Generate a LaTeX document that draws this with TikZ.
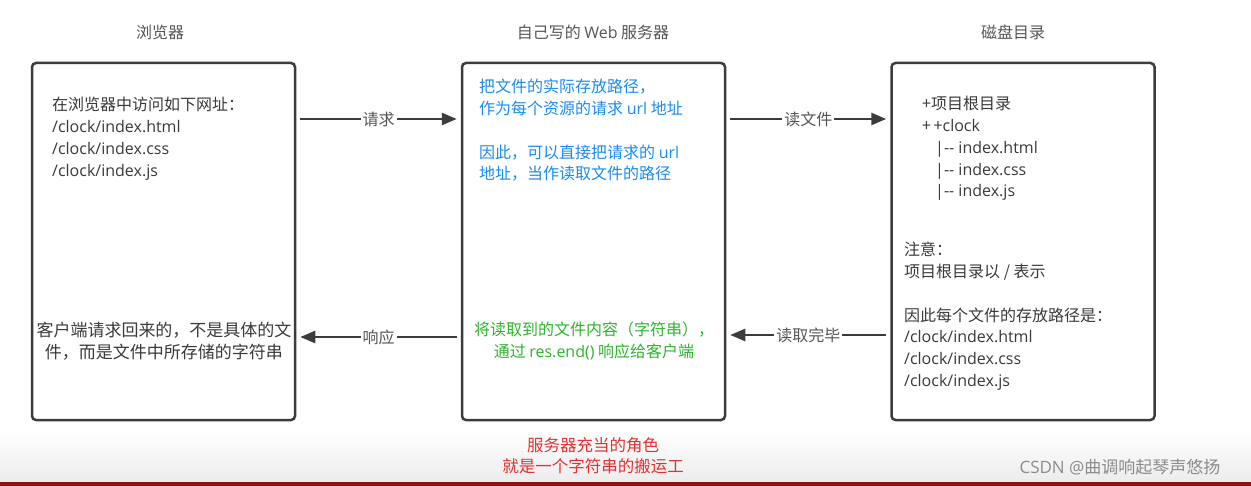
\documentclass[tikz,border=0pt]{standalone}
\usepackage{fontspec}
\setmainfont{Noto Sans CJK SC}
\newfontfamily\latf{Open Sans}
\newcommand{\lt}[1]{{\latf #1}}
\usetikzlibrary{arrows.meta,calc}
\definecolor{boxc}{HTML}{3C3C3C}
\definecolor{txt}{HTML}{3A3A3A}
\definecolor{ttl}{HTML}{555555}
\definecolor{bluet}{HTML}{1A8CF0}
\definecolor{greent}{HTML}{2DB52D}
\definecolor{redt}{HTML}{E53030}
\definecolor{wm}{HTML}{8C8C8C}
\definecolor{stripe}{HTML}{8E1010}
\definecolor{fade}{HTML}{ECECEC}
\begin{document}
\begin{tikzpicture}[x=1pt,y=-1pt,
  box/.style={draw=boxc,line width=2.5pt,rounded corners=4pt,minimum width=263pt,minimum height=357pt,inner sep=0pt},
  body/.style={inner sep=0pt,text=txt,font=\fontsize{16}{21.8}\selectfont},
  title/.style={inner sep=0pt,text=ttl,font=\fontsize{16}{20}\selectfont},
  arr/.style={draw=boxc,line width=2.5pt,-{Triangle[length=15pt,width=12pt]},shorten <=4pt,shorten >=4pt},
  lbl/.style={fill=white,inner sep=2pt,text=ttl,font=\fontsize{16}{20}\selectfont}]
% background
\fill[white] (0,0) rectangle (1251,486);
\shade[top color=white,bottom color=fade] (0,430) rectangle (1251,482);
\fill[stripe] (0,482) rectangle (1251,486);
% titles
\node[title] (t1) at (160,32) {浏览器};
\node[title] (t2) at (593,32) {自己写的 \lt{Web} 服务器};
\node[title] (t3) at (1013,32) {磁盘目录};
% boxes
\node[box] (b1) at (163.5,241.5) {};
\node[box] (b2) at (593.5,241.5) {};
\node[box] (b3) at (1023,241.5) {};
% box 1 texts
\node[body,anchor=north west,align=left] (u1) at (52,97) {在浏览器中访问如下网址：\\\lt{/clock/index.html}\\\lt{/clock/index.css}\\\lt{/clock/index.js}};
\node[body,anchor=north,align=center,font=\fontsize{17}{21.8}\selectfont] (u2) at (164,322) {客户端请求回来的，不是具体的文\\件，而是文件中所存储的字符串};
% box 2 texts
\node[body,text=bluet,anchor=north west,align=left] (s1) at (479,79) {把文件的实际存放路径，\\作为每个资源的请求 \lt{url} 地址\\\mbox{}\\因此，可以直接把请求的 \lt{url}\\地址，当作读取文件的路径};
\node[body,text=greent,anchor=north,align=center] (s2) at (594,322) {将读取到的文件内容（字符串），\\通过 \lt{res.end()} 响应给客户端};
% box 3 texts
\node[body,anchor=north west,align=left] (d1) at (922,96) {+项目根目录\\+\,+\lt{clock}\\\hspace{13pt}\lt{|-{}- index.html}\\\hspace{13pt}\lt{|-{}- index.css}\\\hspace{13pt}\lt{|-{}- index.js}};
\node[body,anchor=north west,align=left] (d2) at (904,242) {注意：\\项目根目录以 / 表示\\\mbox{}\\因此每个文件的存放路径是：\\\lt{/clock/index.html}\\\lt{/clock/index.css}\\\lt{/clock/index.js}};
% connectors
\draw[arr] (b1.east |- 0,119) -- node[lbl] {请求} (b2.west |- 0,119);
\draw[arr] (b2.east |- 0,119) -- node[lbl] {读文件} (b3.west |- 0,119);
\draw[arr] (b3.west |- 0,335) -- node[lbl] {读取完毕} (b2.east |- 0,335);
\draw[arr] (b2.west |- 0,337) -- node[lbl] {响应} (b1.east |- 0,337);
% bottom notes
\node[inner sep=0pt,text=redt,font=\fontsize{16.5}{21}\selectfont,align=center] (note) at (593,456) {服务器充当的角色\\就是一个字符串的搬运工};
\node[inner sep=0pt,text=wm,font=\fontsize{17}{20}\selectfont] (wmk) at (1120,467) {\lt{CSDN @}曲调响起琴声悠扬};
\end{tikzpicture}
\end{document}
